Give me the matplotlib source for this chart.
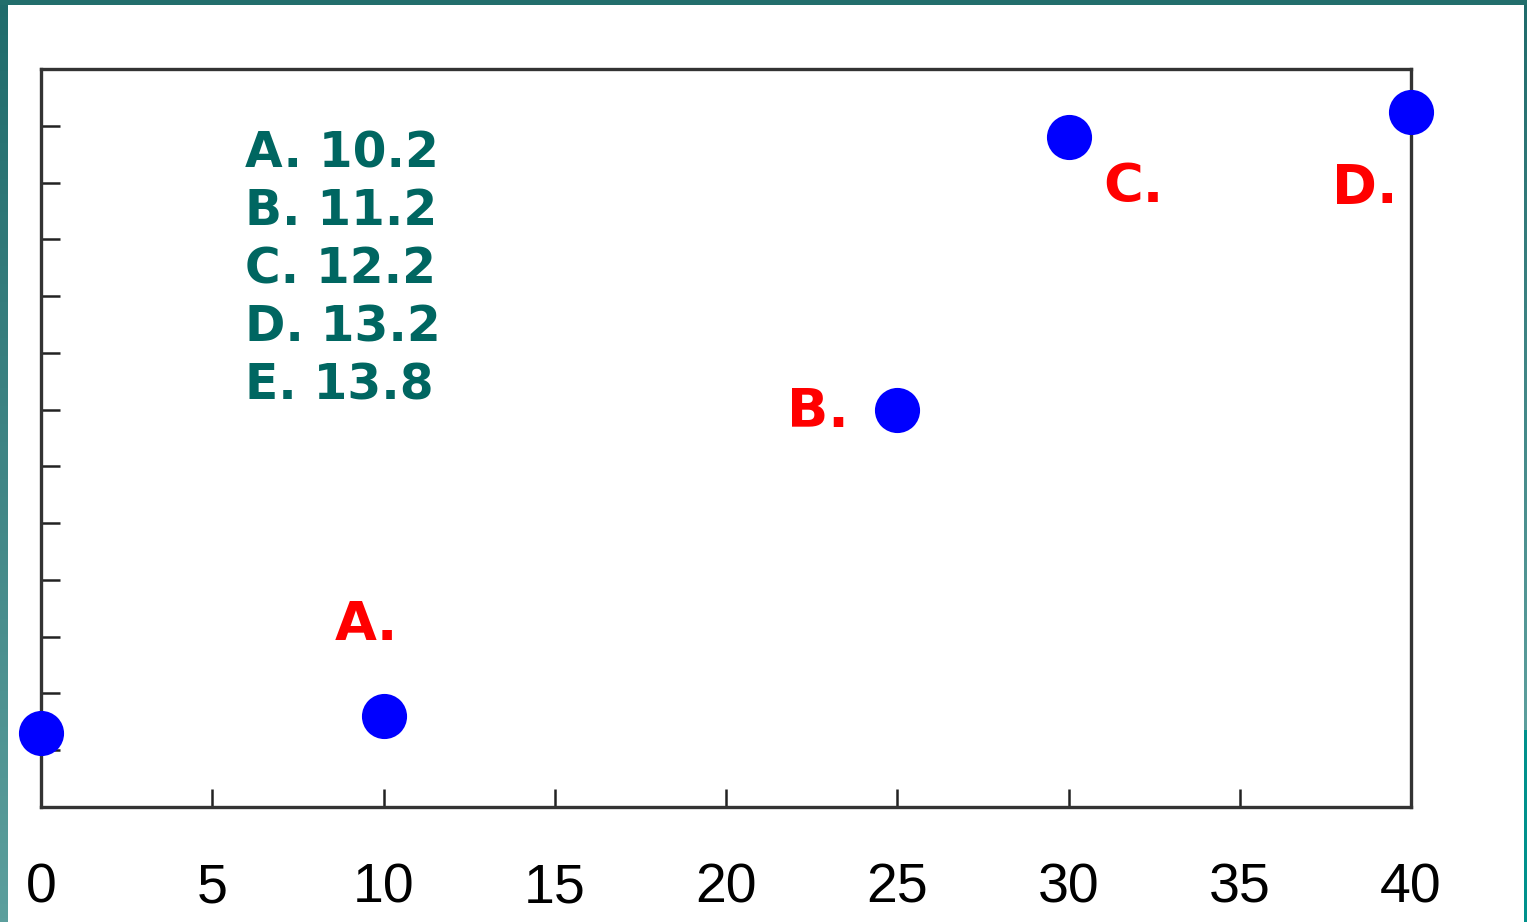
import numpy as np
import matplotlib
matplotlib.use("Agg")
import matplotlib.pyplot as plt
from matplotlib.colors import LinearSegmentedColormap
from matplotlib.patches import Rectangle

# Data: positions of the plotted points
x_vals = [0, 10, 25, 30, 40]
y_vals = [1.3, 1.6, 7.0, 11.8, 12.25]
point_labels = ["", "A.", "B.", "C.", "D."]
x_ticks = [0, 5, 10, 15, 20, 25, 30, 35, 40]
y_ticks = list(range(1, 13))
choices = ["A. 10.2", "B. 11.2", "C. 12.2", "D. 13.2", "E. 13.8"]

W, H = 1527, 922
fig = plt.figure(figsize=(W / 100, H / 100), dpi=100)
fig.patch.set_facecolor("white")

# Slide frame: teal strips around a white page
bg = fig.add_axes([0, 0, 1, 1], zorder=-5)
bg.set_xlim(0, W)
bg.set_ylim(H, 0)
bg.axis("off")
grad = LinearSegmentedColormap.from_list("frame", ["#1f6b6b", "#3f8585", "#5c9f9d"])
ramp = np.linspace(0, 1, 256).reshape(-1, 1)
bg.imshow(ramp, cmap=grad, aspect="auto", extent=(0, 8, H, 0), zorder=1)
bg.imshow(ramp, cmap=grad, aspect="auto", extent=(1524, W, 730, 0), zorder=1)
bg.add_patch(Rectangle((1524, 730), 3, H - 730, color="#00918c", zorder=1, lw=0))
bg.add_patch(Rectangle((0, 0), W, 5, color="#226e6c", zorder=2, lw=0))

ax = fig.add_axes([41 / W, (H - 807) / H, (1411 - 41) / W, (807 - 69) / H])
ax.set_xlim(0, 40)
ax.set_ylim(0, 13)
for s in ax.spines.values():
    s.set_color("#333333")
    s.set_linewidth(2.4)

ax.set_xticks(x_ticks)
ax.set_xticklabels([str(v) for v in x_ticks], fontfamily="Liberation Sans", fontsize=40)
ax.set_yticks(y_ticks)
ax.set_yticklabels([])
ax.tick_params(axis="x", direction="in", length=13, width=1.8, color="#222222", pad=40)
ax.tick_params(axis="y", direction="in", length=14, width=1.8, color="#222222")

ax.plot(x_vals, y_vals, "o", color="#0000ff", markersize=32.5, markeredgewidth=0,
        clip_on=False, zorder=5)

# Letter labels placed beside their points
offsets = {"A.": (-17, 91), "B.": (-79, -2), "C.": (65, -50), "D.": (-46, -76)}
for x, y, lab in zip(x_vals, y_vals, point_labels):
    if not lab:
        continue
    dx, dy = offsets[lab]
    ax.annotate(lab, (x, y), xytext=(dx, dy), textcoords="offset pixels",
                ha="center", va="center", color="#ff0000", fontsize=39,
                fontweight="bold", fontfamily="DejaVu Sans")

# Answer choices
for i, txt in enumerate(choices):
    fig.text(245 / W, 1 - (153 + 58 * i) / H, txt, ha="left", va="center",
             color="#006661", fontsize=35, fontweight="bold", fontfamily="DejaVu Sans")

fig.savefig("out.png", dpi=100, facecolor=fig.get_facecolor())
